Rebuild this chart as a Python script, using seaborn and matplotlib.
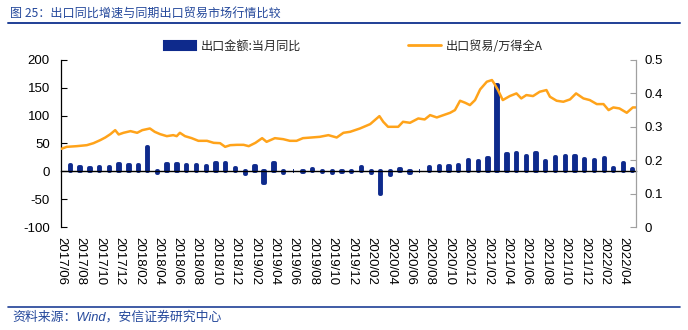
import matplotlib
matplotlib.use('Agg')
import matplotlib.pyplot as plt
import matplotlib.dates as mdates
import matplotlib.ticker as mticker
from matplotlib.patches import Rectangle
from matplotlib.lines import Line2D
import seaborn as sns
import pandas as pd

# ---------------- data ----------------
title_text = "图 25：出口同比增速与同期出口贸易市场行情比较"
source_text = "资料来源：Wind，安信证券研究中心"
bar_label = "出口金额:当月同比"
line_label = "出口贸易/万得全A"

bar_start = "2017-06-01"
bar_count = 59
export_yoy = [
    11.3, 7.2, 5.5, 8.1, 6.9, 12.3, 10.9,                          # 2017/06-12
    11.1, 44.5, -2.7, 12.9, 12.6, 11.3, 12.2, 9.8, 14.5, 15.6, 5.4, -4.4,   # 2018
    9.1, -20.7, 14.2, -2.7, 1.1, -1.3, 3.3, -1.0, -3.2, -0.9, -1.1, 7.6,    # 2019
    -2.5, -40.6, -6.6, 3.5, -3.3, 0.5, 7.2, 9.5, 9.9, 11.4, 21.1, 18.1,     # 2020
    24.7, 154.9, 30.6, 32.3, 27.9, 32.2, 19.3, 25.6, 28.1, 27.1, 22.0, 20.9,  # 2021
    24.1, 6.2, 14.7, 3.9,                                           # 2022/01-04
]

line_dates = [
    "2017-06-02", "2017-06-19", "2017-07-20", "2017-08-21", "2017-09-11", "2017-10-02",
    "2017-10-18", "2017-11-03", "2017-11-18", "2017-11-29", "2017-12-14", "2018-01-05",
    "2018-01-26", "2018-02-11", "2018-03-07", "2018-03-22", "2018-04-08", "2018-04-29",
    "2018-05-19", "2018-05-30", "2018-06-09", "2018-06-25", "2018-07-16", "2018-08-06",
    "2018-09-02", "2018-09-23", "2018-10-13", "2018-10-29", "2018-11-14", "2018-12-05",
    "2018-12-26", "2019-01-11", "2019-02-01", "2019-02-22", "2019-03-08", "2019-04-03",
    "2019-04-29", "2019-05-20", "2019-06-10", "2019-06-30", "2019-07-27", "2019-08-22",
    "2019-09-18", "2019-10-14", "2019-11-04", "2019-11-25", "2019-12-26", "2020-01-27",
    "2020-02-25", "2020-03-08", "2020-03-23", "2020-04-24", "2020-05-09", "2020-05-31",
    "2020-06-26", "2020-07-16", "2020-08-02", "2020-08-23", "2020-09-13", "2020-10-04",
    "2020-10-19", "2020-11-04", "2020-11-20", "2020-12-05", "2020-12-21", "2021-01-06",
    "2021-01-27", "2021-02-12", "2021-02-19", "2021-03-03", "2021-03-18", "2021-04-09",
    "2021-04-30", "2021-05-15", "2021-05-31", "2021-06-21", "2021-07-12", "2021-08-02",
    "2021-08-13", "2021-09-03", "2021-09-24", "2021-10-15", "2021-11-03", "2021-11-26",
    "2021-12-16", "2022-01-07", "2022-01-28", "2022-02-13", "2022-02-28", "2022-03-19",
    "2022-04-11", "2022-04-30", "2022-05-09",
]
ratio = [
    0.234, 0.240, 0.242, 0.245, 0.251, 0.260,
    0.268, 0.278, 0.290, 0.277, 0.282, 0.287,
    0.282, 0.290, 0.295, 0.285, 0.278, 0.272,
    0.275, 0.272, 0.282, 0.272, 0.266, 0.258,
    0.258, 0.252, 0.251, 0.240, 0.245, 0.246,
    0.246, 0.242, 0.252, 0.266, 0.255, 0.266,
    0.263, 0.258, 0.258, 0.266, 0.268, 0.270,
    0.275, 0.268, 0.282, 0.285, 0.295, 0.308,
    0.332, 0.315, 0.300, 0.300, 0.315, 0.312,
    0.325, 0.322, 0.335, 0.328, 0.335, 0.342,
    0.350, 0.378, 0.372, 0.365, 0.380, 0.412,
    0.435, 0.440, 0.430, 0.410, 0.380, 0.392,
    0.400, 0.385, 0.395, 0.392, 0.405, 0.410,
    0.390, 0.378, 0.375, 0.382, 0.400, 0.385,
    0.380, 0.368, 0.368, 0.350, 0.358, 0.355,
    0.342, 0.358, 0.358,
]

x_tick_start = "2017-06-01"
x_tick_end = "2022-04-01"
x_min, x_max = "2017-06-01", "2022-05-10"
left_ticks = [-100, -50, 0, 50, 100, 150, 200]
right_ticks = [0, 0.1, 0.2, 0.3, 0.4, 0.5]

# ---------------- style ----------------
bar_color = "#0E2A8C"
line_color = "#FFA31A"
blue_text = "#24489B"

sns.set_style("white")
plt.rcParams['font.family'] = ['Liberation Sans', 'Noto Sans CJK SC', 'DejaVu Sans']
plt.rcParams['axes.unicode_minus'] = False

fig = plt.figure(figsize=(6.88, 3.30), dpi=100)
W, H = 688, 330
ax = fig.add_axes([61 / W, 1 - 227 / H, (636 - 61) / W, (227 - 60) / H])

bar_dates = pd.date_range(bar_start, periods=bar_count, freq="MS") + pd.offsets.MonthEnd(0)
bar_df = pd.DataFrame({"date": mdates.date2num(bar_dates), "yoy": export_yoy})
sns.barplot(data=bar_df, x="date", y="yoy", native_scale=True, color=bar_color,
            saturation=1, width=0.15, errorbar=None, ax=ax,
            linewidth=2.8, edgecolor=bar_color)
for p in ax.patches:
    p.set_joinstyle("round")

ax2 = ax.twinx()
line_df = pd.DataFrame({"date": mdates.date2num(pd.to_datetime(line_dates)), "ratio": ratio})
sns.lineplot(data=line_df, x="date", y="ratio", ax=ax2, color=line_color, linewidth=1.8)

ax.set_xlim(mdates.date2num(pd.Timestamp(x_min)), mdates.date2num(pd.Timestamp(x_max)))
ax.set_ylim(-100, 200)
ax2.set_ylim(0, 0.5)

tick_dates = pd.date_range(x_tick_start, x_tick_end, freq="2MS")
ax.set_xticks(mdates.date2num(tick_dates))
ax.xaxis.set_major_formatter(mdates.DateFormatter("%Y/%m"))
ax.set_yticks(left_ticks)
ax2.set_yticks(right_ticks)
ax2.yaxis.set_major_formatter(mticker.FuncFormatter(lambda v, _: f"{v:g}"))

ax.set_xlabel("")
ax.set_ylabel("")
ax2.set_xlabel("")
ax2.set_ylabel("")

for s in ["top", "right"]:
    ax.spines[s].set_visible(False)
ax.spines["bottom"].set_position(("data", 0))
ax.spines["bottom"].set_color("black")
ax.spines["bottom"].set_linewidth(1.0)
ax.spines["left"].set_color("black")
ax.spines["left"].set_linewidth(0.9)
for s in ["top", "left", "bottom"]:
    ax2.spines[s].set_visible(False)
ax2.spines["right"].set_color("#A0A0A0")
ax2.spines["right"].set_linewidth(0.9)

ax.tick_params(axis="x", direction="in", length=3, width=0.8, color="black",
               pad=47, labelsize=9.5, labelcolor="black", labelrotation=-90)
ax.tick_params(axis="y", direction="in", length=4, width=0.8, color="black",
               pad=8, labelsize=9.5, labelcolor="black")
ax2.tick_params(axis="y", direction="in", length=4, width=0.8, color="#A0A0A0",
                pad=6, labelsize=9.5, labelcolor="black")
for lab in ax.get_xticklabels():
    lab.set_ha("center")
    lab.set_va("top")
ax.grid(False)
ax2.grid(False)

# legend
h_bar = Rectangle((0, 0), 1, 1, facecolor=bar_color, edgecolor=bar_color,
                  linewidth=1.5, joinstyle="round")
h_line = Line2D([0], [0], color=line_color, linewidth=2)
fig.legend([h_bar, h_line], [bar_label, line_label], loc="center",
           bbox_to_anchor=(353 / W, 1 - 46 / H), ncol=2, frameon=False,
           columnspacing=8.9, handlelength=2.7, handletextpad=0.35,
           prop={"family": ["Noto Sans CJK SC", "DejaVu Sans"], "size": 8.7})

# title, rules, source
fig.text(10 / W, 1 - 13 / H, title_text, ha="left", va="center", color=blue_text,
         fontsize=8.7, family=["Noto Sans CJK SC", "DejaVu Sans"])
fig.add_artist(Line2D([8 / W, 680 / W], [1 - 22.5 / H, 1 - 22.5 / H],
                      color="#1F3F96", linewidth=1.4, transform=fig.transFigure))
fig.add_artist(Line2D([8 / W, 680 / W], [1 - 306.5 / H, 1 - 306.5 / H],
                      color="#1F3F96", linewidth=1.2, transform=fig.transFigure))
fig.text(12 / W, 1 - 317 / H, source_text, ha="left", va="center", color=blue_text,
         fontsize=9.3, style="italic",
         family=["Liberation Sans", "Noto Sans CJK SC", "DejaVu Sans"])

fig.savefig("out.png", dpi=100)
